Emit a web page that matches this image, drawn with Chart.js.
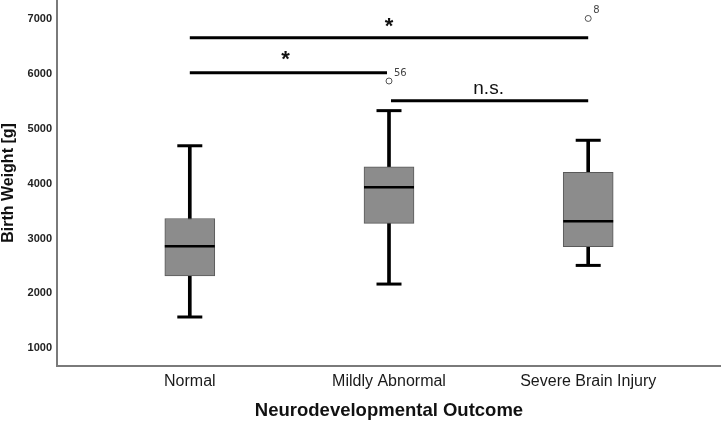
<!DOCTYPE html>
<html>
<head>
<meta charset="utf-8">
<script src="https://cdn.jsdelivr.net/npm/chart.js@4"></script>
<style>
  html, body { margin: 0; padding: 0; background: #ffffff; }
  #c { display: block; }
</style>
</head>
<body>
<canvas id="c" width="721" height="421"></canvas>
<script>
// ---- data ----
const categories = ['Normal', 'Mildly Abnormal', 'Severe Brain Injury'];
const categoryPos = [0, 1, 2];
const whiskerLow = [1570, 2170, 2510];
const q1 = [2320, 3275, 2850];
const median = [2860, 3935, 3315];
const q3 = [3365, 4305, 4205];
const whiskerHigh = [4690, 5330, 4790];

const outlierPos = [1, 2];
const outlierValue = [5870, 7010];
const outlierLabels = ['56', '8'];

const yTicks = [1000, 2000, 3000, 4000, 5000, 6000, 7000];

const bracketStart = [0, 0, 1.01];
const bracketEnd = [2, 0.99, 2];
const bracketValue = [6660, 6020, 5510];
const bracketLabels = ['*', '*', 'n.s.'];
const bracketLabelPos = [1.0, 0.48, 1.5];
const bracketLabelValue = [6850, 6250, 5720];

// ---- datasets built from the arrays ----
const whiskerData = categoryPos.map((x, i) => ({ x: x, y: [whiskerLow[i], whiskerHigh[i]] }));
const boxData = categoryPos.map((x, i) => ({ x: x, y: [q1[i], q3[i]] }));
const medianData = categoryPos.map((x, i) => ({ x: x, y: median[i] }));
const capData = [];
categoryPos.forEach((x, i) => { capData.push({ x: x, y: whiskerLow[i] }); capData.push({ x: x, y: whiskerHigh[i] }); });
const outlierData = outlierPos.map((x, i) => ({ x: x, y: outlierValue[i] }));

const bracketSets = bracketValue.map((v, i) => ({
  type: 'line',
  data: [{ x: bracketStart[i], y: v }, { x: bracketEnd[i], y: v }],
  borderColor: '#000000',
  borderWidth: 3,
  pointRadius: 0,
  order: 1,
  clip: false
}));

const annotationPlugin = {
  id: 'annot',
  afterDatasetsDraw(chart) {
    const ctx = chart.ctx;
    const xs = chart.scales.x, ys = chart.scales.y;
    ctx.save();
    ctx.textAlign = 'center';
    ctx.textBaseline = 'middle';
    bracketLabels.forEach((t, i) => {
      const px = xs.getPixelForValue(bracketLabelPos[i]);
      const py = ys.getPixelForValue(bracketLabelValue[i]);
      ctx.fillStyle = '#111111';
      ctx.font = t === '*' ? 'bold 22px "Liberation Sans", Arial, sans-serif' : '19px "Liberation Sans", Arial, sans-serif';
      ctx.fillText(t, px, py);
    });
    ctx.textAlign = 'left';
    ctx.font = '10px "DejaVu Sans", sans-serif';
    ctx.fillStyle = '#444444';
    outlierLabels.forEach((t, i) => {
      const px = xs.getPixelForValue(outlierPos[i]);
      const py = ys.getPixelForValue(outlierValue[i]);
      ctx.fillText(t, px + 5, py - 8);
    });
    ctx.restore();
  }
};

new Chart(document.getElementById('c'), {
  type: 'bar',
  data: {
    datasets: [
      {
        type: 'bar',
        data: whiskerData,
        backgroundColor: '#000000',
        borderWidth: 0,
        barThickness: 3,
        grouped: false,
        order: 6
      },
      {
        type: 'bar',
        data: boxData,
        backgroundColor: '#8c8c8c',
        borderColor: '#595959',
        borderWidth: 1,
        borderSkipped: false,
        barThickness: 50,
        grouped: false,
        order: 5
      },
      {
        type: 'line',
        data: medianData,
        showLine: false,
        pointStyle: 'line',
        pointRadius: 25,
        pointBorderWidth: 2.5,
        pointBorderColor: '#000000',
        order: 4
      },
      {
        type: 'line',
        data: capData,
        showLine: false,
        pointStyle: 'line',
        pointRadius: 12.5,
        pointBorderWidth: 3,
        pointBorderColor: '#000000',
        order: 4
      },
      {
        type: 'line',
        data: outlierData,
        showLine: false,
        pointStyle: 'circle',
        pointRadius: 3,
        pointBorderWidth: 1,
        pointBorderColor: '#555555',
        pointBackgroundColor: '#ffffff',
        order: 2,
        clip: false
      },
      ...bracketSets
    ]
  },
  options: {
    responsive: false,
    animation: false,
    devicePixelRatio: 1,
    layout: { padding: 0, autoPadding: false },
    plugins: { legend: { display: false }, tooltip: { enabled: false } },
    scales: {
      x: {
        type: 'linear',
        offset: false,
        min: -2 / 3,
        max: 8 / 3,
        afterBuildTicks(scale) { scale.ticks = categoryPos.map(v => ({ value: v })); },
        afterFit(scale) { scale.height = 55; scale.paddingLeft = 0; scale.paddingRight = 0; },
        grid: { display: false, drawTicks: false, offset: false },
        border: { display: true, color: '#7a7a7a', width: 2 },
        ticks: {
          padding: 6,
          color: '#1a1a1a',
          font: { family: '"Liberation Sans", Arial, sans-serif', size: 16 },
          maxRotation: 0,
          autoSkip: false,
          callback: (v) => categories[categoryPos.indexOf(v)]
        },
        title: {
          display: true,
          text: 'Neurodevelopmental Outcome',
          color: '#111111',
          font: { family: '"Liberation Sans", Arial, sans-serif', size: 18.5, weight: 'bold', lineHeight: 1.1 },
          padding: { top: 0, bottom: 0 }
        }
      },
      y: {
        type: 'linear',
        min: 677,
        max: 7346,
        afterBuildTicks(scale) { scale.ticks = yTicks.map(v => ({ value: v })); },
        afterFit(scale) { scale.width = 57; scale.paddingTop = 0; scale.paddingBottom = 0; },
        grid: { display: false, drawTicks: false },
        border: { display: true, color: '#7a7a7a', width: 2 },
        ticks: {
          padding: 5,
          color: '#222222',
          font: { family: '"Liberation Sans", Arial, sans-serif', size: 11, weight: 'bold' },
          callback: (v) => String(v)
        },
        title: {
          display: true,
          text: 'Birth Weight [g]',
          color: '#111111',
          font: { family: '"Liberation Sans", Arial, sans-serif', size: 16, weight: 'bold', lineHeight: 1.1 },
          padding: { top: 0, bottom: 0 }
        }
      }
    }
  },
  plugins: [annotationPlugin]
});
</script>
</body>
</html>
